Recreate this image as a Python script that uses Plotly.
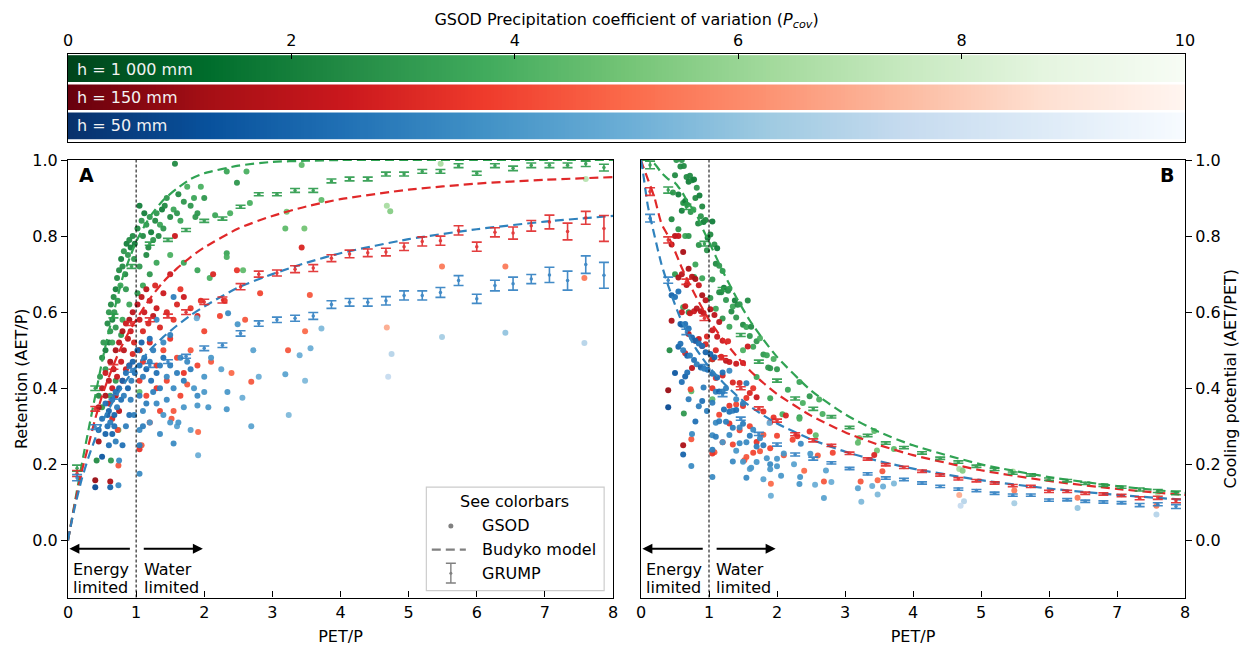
import numpy as np
import plotly.graph_objects as go
from plotly.colors import sequential as seq

FONT = "DejaVu Sans"
FS = 16

# ---------------- data ----------------
# GSOD stations, panel A (PET/P, AET/P, Pcov)
green_x = [0.42,0.63,0.74,0.50,0.62,0.70,0.45,0.47,0.50,0.52,0.55,0.55,0.58,0.60,0.60,0.62,0.63,0.65,0.65,0.67,
           0.68,0.70,0.70,0.72,0.73,0.75,0.77,0.78,0.78,0.80,0.80,0.82,0.84,0.85,0.86,0.88,0.90,0.90,0.92,0.95,
           0.97,0.98,1.02,1.05,1.08,1.10,1.12,1.15,1.18,1.20,1.22,1.25,1.28,1.30,1.33,1.35,1.38,1.40,1.42,1.45,
           1.50,1.55,1.57,1.60,1.62,1.65,1.70,1.75,1.80,1.85,1.90,1.95,1.05,1.10,1.20,1.30,1.15,1.50,1.70,1.90,
           2.08,2.00,2.16,2.38,2.33,2.48,2.62,3.43,3.21,3.19,3.47,3.72,4.68,4.73,2.33,2.33,2.57,1.02,1.05,1.05,
           1.87,5.47,7.60,2.67]
green_y = [0.21,0.21,0.29,0.35,0.38,0.42,0.38,0.43,0.48,0.52,0.50,0.45,0.57,0.60,0.52,0.55,0.62,0.58,0.52,0.64,
           0.60,0.66,0.56,0.69,0.63,0.71,0.67,0.74,0.54,0.72,0.58,0.76,0.70,0.66,0.78,0.75,0.79,0.62,0.77,0.80,
           0.74,0.78,0.82,0.88,0.84,0.80,0.86,0.83,0.77,0.85,0.81,0.79,0.84,0.86,0.80,0.83,0.87,0.82,0.88,0.90,
           0.85,0.87,0.99,0.86,0.91,0.84,0.89,0.93,0.88,0.90,0.86,0.93,0.72,0.67,0.70,0.73,0.75,0.75,0.73,0.71,
           0.69,0.90,0.855,0.86,0.97,0.94,0.97,0.987,0.864,0.82,0.82,0.895,0.88,0.865,0.755,0.745,0.71,0.65,0.50,0.39,
           0.85,0.99,0.95,0.887]
green_c = [2.5,3.0,4.5,3.0,3.5,3.0,2.5,3.0,2.5,3.0,2.0,3.0,2.5,3.0,2.0,3.0,2.5,2.0,3.5,2.5,
           3.0,2.0,3.0,2.5,3.0,2.5,3.5,2.0,3.0,2.5,3.5,3.0,2.5,3.0,2.0,3.0,2.5,3.5,2.0,2.5,
           3.0,2.0,2.5,2.0,3.0,2.5,2.0,3.0,2.5,3.0,2.0,3.0,2.5,3.0,2.5,3.5,2.0,3.0,2.5,3.0,
           2.5,3.5,2.5,3.0,2.5,3.5,3.0,4.0,3.0,3.5,3.0,4.0,3.0,3.5,3.0,3.5,2.5,4.0,3.5,3.5,
           4.0,3.0,3.5,4.0,3.5,3.0,4.0,4.5,5.0,4.5,5.0,4.5,6.5,5.5,3.5,4.0,4.5,3.0,4.0,4.5,
           3.0,6.5,7.0,4.0]

red_x = [0.40,0.62,0.74,0.45,0.73,0.45,0.50,0.55,0.55,0.60,0.62,0.65,0.67,0.70,0.72,0.75,0.78,0.80,0.82,0.85,
         0.88,0.90,0.92,0.95,0.97,0.60,0.70,0.80,0.85,0.75,0.65,0.90,0.95,1.02,1.05,1.08,1.10,1.12,1.15,1.18,
         1.20,1.25,1.28,1.30,1.35,1.40,1.45,1.50,1.55,1.60,1.65,1.70,1.80,1.90,1.95,1.05,1.10,1.20,1.30,1.40,
         1.50,1.60,1.70,1.80,1.90,2.00,1.05,1.15,1.30,1.45,1.55,1.65,1.75,1.20,1.35,1.52,1.08,1.05,1.57,1.91,
         2.13,2.48,2.23,2.82,3.43,3.55,3.23,3.48,2.69,4.68,5.49,6.42,7.58,2.30,2.60,2.10,2.40]
red_y = [0.158,0.155,0.197,0.26,0.29,0.35,0.40,0.38,0.44,0.42,0.47,0.40,0.45,0.50,0.43,0.52,0.47,0.55,0.50,0.57,
         0.53,0.58,0.55,0.60,0.52,0.36,0.38,0.42,0.45,0.34,0.32,0.46,0.49,0.62,0.58,0.64,0.55,0.60,0.66,0.57,
         0.63,0.59,0.67,0.61,0.56,0.65,0.60,0.70,0.58,0.62,0.66,0.64,0.61,0.59,0.63,0.50,0.47,0.52,0.46,0.50,
         0.53,0.48,0.44,0.50,0.46,0.55,0.42,0.38,0.40,0.42,0.34,0.38,0.41,0.31,0.34,0.32,0.25,0.24,0.80,0.285,
         0.70,0.71,0.59,0.65,0.77,0.645,0.50,0.55,0.417,0.56,0.72,0.72,0.69,0.63,0.58,0.47,0.44]
red_c = [1.0,1.5,4.5,1.5,4.0,1.5,2.0,1.5,2.5,2.0,1.5,2.5,2.0,1.5,2.5,2.0,2.5,1.5,2.0,2.5,
         2.0,1.5,2.5,2.0,3.0,2.5,2.0,3.0,2.5,2.0,3.0,2.5,3.0,2.0,2.5,2.0,3.0,2.5,2.0,3.0,
         2.5,2.0,3.0,2.5,3.0,2.5,3.0,2.5,3.5,3.0,3.5,2.5,3.5,3.0,3.5,3.0,3.5,3.0,3.5,4.0,
         3.5,4.0,3.5,4.5,4.0,4.0,3.5,4.0,3.5,4.0,4.5,4.0,4.5,3.5,4.0,4.5,4.5,3.5,2.5,5.0,
         3.0,3.5,4.0,4.0,3.0,4.5,4.5,5.0,4.5,7.0,5.5,5.5,5.5,3.5,4.5,4.5,5.0]

blue_x = [0.40,0.62,0.74,0.45,0.50,0.55,0.58,0.60,0.62,0.65,0.68,0.70,0.72,0.75,0.78,0.80,0.82,0.85,0.88,0.90,
          0.93,0.95,0.98,0.50,0.60,0.70,0.75,0.80,0.85,0.90,0.65,0.55,0.92,0.97,0.58,0.68,1.02,1.05,1.08,1.10,
          1.12,1.15,1.20,1.22,1.25,1.30,1.35,1.40,1.45,1.50,1.55,1.60,1.65,1.70,1.75,1.80,1.85,1.90,2.00,1.05,
          1.10,1.15,1.20,1.30,1.35,1.40,1.50,1.55,1.60,1.70,1.80,1.90,1.05,1.05,1.05,1.10,1.91,1.25,1.45,1.35,
          1.55,1.30,1.50,1.20,1.40,1.62,1.89,2.35,2.49,2.72,3.40,3.56,3.72,3.19,3.48,4.75,4.70,2.34,2.56,2.33,
          2.69,3.24,2.06,5.49,6.42,7.58,2.10,2.25,2.00,2.80]
blue_y = [0.14,0.14,0.145,0.29,0.32,0.28,0.30,0.34,0.31,0.37,0.33,0.39,0.35,0.40,0.37,0.42,0.38,0.44,0.40,0.46,
          0.42,0.47,0.44,0.22,0.25,0.26,0.21,0.25,0.30,0.33,0.28,0.36,0.37,0.33,0.33,0.30,0.50,0.46,0.52,0.43,
          0.48,0.45,0.47,0.42,0.50,0.44,0.46,0.48,0.43,0.46,0.40,0.44,0.48,0.42,0.47,0.45,0.40,0.38,0.43,0.38,
          0.34,0.36,0.31,0.36,0.28,0.33,0.31,0.255,0.30,0.35,0.29,0.355,0.29,0.25,0.175,0.30,0.224,0.39,0.37,0.40,
          0.64,0.58,0.54,0.53,0.52,0.31,0.584,0.597,0.568,0.50,0.487,0.505,0.557,0.437,0.42,0.49,0.43,0.39,0.375,0.345,
          0.30,0.33,0.35,0.535,0.546,0.519,0.48,0.45,0.39,0.43]
blue_c = [1.0,2.0,3.5,2.0,2.5,2.0,2.5,2.0,3.0,2.5,2.0,2.5,3.0,2.0,2.5,2.0,3.0,2.5,2.0,2.5,
          3.0,2.0,2.5,1.5,2.5,3.0,3.5,2.5,3.0,2.5,2.0,2.5,3.0,3.0,2.0,2.5,2.0,2.5,2.0,3.0,
          2.5,2.0,3.0,2.5,3.0,2.5,3.0,2.5,3.5,3.0,3.5,3.0,3.5,3.0,3.5,3.0,4.0,3.5,4.0,3.0,
          3.5,3.0,4.0,3.5,3.5,4.0,4.0,3.5,4.5,4.0,4.5,4.0,3.5,3.0,3.5,3.0,5.0,3.0,3.5,3.0,
          3.0,3.5,3.0,2.5,3.5,4.0,5.0,3.5,4.0,4.5,5.0,5.0,5.5,4.5,5.5,7.0,7.5,4.0,5.0,4.0,
          4.5,5.5,4.0,6.5,6.0,7.0,4.0,4.5,4.0,5.0]

# Budyko model curves, panel A (AET/P vs PET/P)
budyko_x = [0.0,0.03,0.1,0.2,0.3,0.4,0.5,0.6,0.7,0.8,0.9,1.0,1.2,1.4,1.6,1.8,2.0,2.5,3.0,3.5,4.0,5.0,6.0,7.0,8.0]
budyko_green = [0.0,0.03,0.1,0.198,0.29,0.38,0.47,0.55,0.62,0.69,0.74,0.785,0.85,0.895,0.925,0.95,0.965,0.985,0.995,0.998,1.0,1.0,1.0,1.0,1.0]
budyko_red = [0.0,0.0295,0.095,0.18,0.25,0.32,0.38,0.43,0.475,0.515,0.55,0.58,0.635,0.68,0.715,0.745,0.77,0.82,0.853,0.878,0.897,0.922,0.938,0.948,0.955]
budyko_blue = [0.0,0.029,0.088,0.16,0.218,0.268,0.31,0.345,0.378,0.405,0.432,0.456,0.50,0.535,0.565,0.592,0.615,0.665,0.70,0.73,0.755,0.792,0.818,0.838,0.853]

# GRUMP binned means
grump_x = [0.133,0.4,0.667,0.933,1.2,1.467,1.733,2.0,2.267,2.533,2.8,3.067,3.333,3.6,3.867,
           4.133,4.4,4.667,4.933,5.2,5.467,5.733,6.0,6.267,6.533,6.8,7.067,7.333,7.6,7.867]
grumpA_green = [0.19,0.40,0.59,0.72,0.78,0.79,0.816,0.84,0.846,0.877,0.91,0.91,0.92,0.92,0.945,
                0.95,0.95,0.963,0.963,0.97,0.97,0.985,0.965,0.985,0.978,0.986,0.986,0.986,0.99,0.98]
grumpA_red = [0.176,0.346,0.456,0.57,0.58,0.59,0.60,0.627,0.632,0.667,0.70,0.703,0.713,0.716,0.742,
              0.753,0.756,0.758,0.772,0.786,0.788,0.815,0.772,0.81,0.808,0.827,0.837,0.812,0.848,0.82]
grumpA_blue = [0.165,0.298,0.377,0.447,0.46,0.47,0.484,0.505,0.513,0.544,0.57,0.58,0.584,0.59,0.62,
               0.626,0.626,0.63,0.644,0.644,0.652,0.683,0.635,0.67,0.675,0.687,0.698,0.683,0.725,0.697]
grumpA_green_err = [0.008,0.006,0.005,0.005,0.004,0.004,0.004,0.004,0.004,0.004,0.004,0.004,0.005,0.005,0.005,
                    0.005,0.005,0.005,0.005,0.005,0.005,0.005,0.005,0.005,0.006,0.006,0.006,0.006,0.007,0.009]
grumpA_red_err = [0.008,0.006,0.006,0.005,0.005,0.005,0.006,0.007,0.008,0.008,0.008,0.008,0.009,0.009,0.009,
                  0.010,0.010,0.010,0.010,0.012,0.012,0.012,0.012,0.012,0.016,0.014,0.018,0.022,0.017,0.034]
grumpA_blue_err = [0.008,0.006,0.006,0.005,0.005,0.005,0.005,0.006,0.006,0.007,0.007,0.007,0.008,0.009,0.010,
                   0.010,0.010,0.011,0.012,0.012,0.013,0.013,0.012,0.014,0.017,0.012,0.020,0.025,0.023,0.034]
grumpB_green = [0.987,0.921,0.877,0.78,0.66,0.54,0.47,0.42,0.373,0.346,0.325,0.297,0.276,0.256,0.244,
                0.23,0.216,0.206,0.195,0.187,0.177,0.172,0.161,0.157,0.150,0.145,0.14,0.134,0.13,0.125]
grumpB_red = [0.917,0.79,0.68,0.584,0.48,0.40,0.347,0.315,0.279,0.263,0.25,0.229,0.214,0.199,0.192,
              0.182,0.172,0.162,0.157,0.151,0.144,0.142,0.129,0.129,0.124,0.122,0.118,0.111,0.112,0.104]
grumpB_blue = [0.847,0.684,0.548,0.456,0.383,0.32,0.28,0.252,0.226,0.215,0.204,0.189,0.175,0.164,0.16,
               0.151,0.142,0.135,0.131,0.124,0.119,0.119,0.106,0.107,0.103,0.101,0.099,0.093,0.095,0.089]
grumpB_err = [0.010,0.008,0.007,0.006,0.005,0.004,0.004,0.004,0.004,0.004,0.003,0.003,0.003,0.003,0.003,
              0.003,0.003,0.003,0.003,0.003,0.003,0.003,0.003,0.003,0.003,0.003,0.003,0.004,0.004,0.005]

bar_labels = ["h = 1 000 mm", "h = 150 mm", "h = 50 mm"]
pcov_ticks = [0, 2, 4, 6, 8, 10]

# ---------------- styling ----------------
def rev_scale(cs):
    cs = list(reversed(cs))
    n = len(cs)
    return [[i / (n - 1), c] for i, c in enumerate(cs)]

CS_G = rev_scale(seq.Greens)
CS_R = rev_scale(seq.Reds)
CS_B = rev_scale(seq.Blues)

LINE_G, LINE_R, LINE_B = "#31a354", "#e0292a", "#3182bd"
ERR_G, ERR_R, ERR_B = "#2a9a4a", "#e0292a", "#2f7fc1"

# the page body has an 8px margin, so the figure is 1240x638 and sits at (8, 8)
W, H, OFF = 1240, 638, 8
def px_x(p):
    return (p - OFF) / W
def px_y(p):
    return 1 - (p - OFF) / H

A_X = [px_x(68), px_x(613)]
B_X = [px_x(641), px_x(1185)]
Y_MAIN = [px_y(597.5), px_y(160)]
CB_Y = [px_y(141.5), px_y(53.5)]

fig = go.Figure()

# ---------- colour bars (top) ----------
grad = np.linspace(0, 10, 301)
for row, cs in zip([2, 1, 0], [CS_G, CS_R, CS_B]):
    fig.add_trace(go.Heatmap(x=grad, y=[row], z=[grad], colorscale=cs, zmin=0, zmax=10,
                             showscale=False, hoverinfo="skip", xaxis="x3", yaxis="y3"))

# ---------- scatter ----------
series = [
    (green_x, green_y, green_c, CS_G),
    (red_x, red_y, red_c, CS_R),
    (blue_x, blue_y, blue_c, CS_B),
]
for xs, ys, cs_vals, cs in series:
    xs_a = np.array(xs); ys_a = np.array(ys)
    for xa, ya, yv in [("x", "y", ys_a), ("x2", "y2", ys_a / xs_a)]:
        fig.add_trace(go.Scatter(x=xs_a, y=yv, mode="markers", xaxis=xa, yaxis=ya,
                                 marker=dict(size=6, color=cs_vals, colorscale=cs, cmin=0, cmax=10,
                                             opacity=0.95, line=dict(width=0)),
                                 showlegend=False, hoverinfo="skip"))

# ---------- Budyko curves ----------
bx = np.array(budyko_x)
for curve, col in [(budyko_green, LINE_G), (budyko_red, LINE_R), (budyko_blue, LINE_B)]:
    cy = np.array(curve)
    fig.add_trace(go.Scatter(x=bx, y=cy, mode="lines", xaxis="x", yaxis="y",
                             line=dict(color=col, width=2.2, dash="9px,5px", shape="spline", smoothing=0.6),
                             showlegend=False, hoverinfo="skip"))
    m = bx > 0
    fig.add_trace(go.Scatter(x=np.concatenate([[0.0], bx[m]]), y=np.concatenate([[1.0], cy[m] / bx[m]]),
                             mode="lines", xaxis="x2", yaxis="y2",
                             line=dict(color=col, width=2.2, dash="9px,5px", shape="spline", smoothing=0.6),
                             showlegend=False, hoverinfo="skip"))

# ---------- GRUMP ----------
for ya, yb, ea, col in [(grumpA_green, grumpB_green, grumpA_green_err, ERR_G),
                        (grumpA_red, grumpB_red, grumpA_red_err, ERR_R),
                        (grumpA_blue, grumpB_blue, grumpA_blue_err, ERR_B)]:
    for xa, yax, yv, ev in [("x", "y", ya, ea), ("x2", "y2", yb, grumpB_err)]:
        fig.add_trace(go.Scatter(x=grump_x, y=yv, mode="markers", xaxis=xa, yaxis=yax,
                                 marker=dict(size=3.5, color=col),
                                 error_y=dict(type="data", array=ev, color=col, thickness=1.6, width=5),
                                 opacity=0.9, showlegend=False, hoverinfo="skip"))

# ---------- legend (drawn) ----------
LEG_GRAY = "#808080"
fig.add_trace(go.Scatter(x=[5.62], y=[0.038], mode="markers", xaxis="x", yaxis="y",
                         marker=dict(size=5, color=LEG_GRAY), showlegend=False, hoverinfo="skip"))
fig.add_trace(go.Scatter(x=[5.34, 5.84], y=[-0.024, -0.024], mode="lines", xaxis="x", yaxis="y",
                         line=dict(color=LEG_GRAY, width=2.2, dash="9px,5px"), showlegend=False, hoverinfo="skip"))
fig.add_trace(go.Scatter(x=[5.62], y=[-0.086], mode="markers", xaxis="x", yaxis="y",
                         marker=dict(size=3, color=LEG_GRAY),
                         error_y=dict(type="data", array=[0.026], color=LEG_GRAY, thickness=1.4, width=5),
                         showlegend=False, hoverinfo="skip"))

shapes = []
annotations = []
shapes.append(dict(type="rect", xref="x", yref="y", x0=5.26, x1=7.87, y0=-0.132, y1=0.14,
                   line=dict(color="#cccccc", width=1.2), fillcolor="rgba(255,255,255,0.85)", layer="below"))
for txt, yy in [("GSOD", 0.038), ("Budyko model", -0.024), ("GRUMP", -0.086)]:
    annotations.append(dict(text=txt, x=6.05, y=yy, xref="x", yref="y", xanchor="left", yanchor="middle",
                            showarrow=False, font=dict(family=FONT, size=FS, color="black")))
annotations.append(dict(text="See colorbars", x=6.56, y=0.103, xref="x", yref="y", xanchor="center",
                        yanchor="middle", showarrow=False, font=dict(family=FONT, size=FS, color="black")))

# ---------- panel decorations ----------
for xr, yr in [("x", "y"), ("x2", "y2")]:
    shapes.append(dict(type="line", xref=xr, yref=yr + " domain", x0=1, x1=1, y0=0, y1=1,
                       line=dict(color="black", width=1, dash="3px,2px")))
    annotations.append(dict(x=0.02, y=-0.022, ax=0.93, ay=-0.022, xref=xr, yref=yr, axref=xr, ayref=yr,
                            showarrow=True, arrowhead=2, arrowsize=1, arrowwidth=2, arrowcolor="black", text=""))
    annotations.append(dict(x=1.98, y=-0.022, ax=1.09, ay=-0.022, xref=xr, yref=yr, axref=xr, ayref=yr,
                            showarrow=True, arrowhead=2, arrowsize=1, arrowwidth=2, arrowcolor="black", text=""))
    for txt, xx, yy in [("Energy", 0.04, -0.076), ("limited", 0.04, -0.124),
                        ("Water", 1.08, -0.076), ("limited", 1.08, -0.124)]:
        annotations.append(dict(text=txt, x=xx, y=yy, xref=xr, yref=yr, xanchor="left",
                                yanchor="middle", showarrow=False,
                                font=dict(family=FONT, size=FS, color="black")))

annotations.append(dict(text="<b>A</b>", x=0.13, y=0.96, xref="x", yref="y", xanchor="left", yanchor="middle",
                        showarrow=False, font=dict(family=FONT, size=19, color="black")))
annotations.append(dict(text="<b>B</b>", x=7.87, y=0.96, xref="x2", yref="y2", xanchor="right", yanchor="middle",
                        showarrow=False, font=dict(family=FONT, size=19, color="black")))

# colour bar row labels and separators
for row, lab in zip([2, 1, 0], bar_labels):
    annotations.append(dict(text=lab, x=0.06, y=row, xref="x3", yref="y3", xanchor="left", yanchor="middle",
                            showarrow=False, font=dict(family=FONT, size=FS, color="#f2f2f2")))
for yy in [0.5, 1.5]:
    shapes.append(dict(type="line", xref="x3 domain", yref="y3", x0=0, x1=1, y0=yy, y1=yy,
                       line=dict(color="white", width=2.5)))

axis_common = dict(showline=True, linecolor="black", linewidth=1.2, mirror=True, showgrid=False,
                   zeroline=False, tickfont=dict(family=FONT, size=FS, color="black"),
                   tickcolor="black", automargin=False)

ytickvals = [0.0, 0.2, 0.4, 0.6, 0.8, 1.0]
fig.update_layout(
    width=W, height=H,
    margin=dict(l=0, r=0, t=0, b=0, autoexpand=False),
    paper_bgcolor="white", plot_bgcolor="white",
    font=dict(family=FONT, size=FS, color="black"),
    showlegend=False,
    xaxis=dict(domain=A_X, range=[0, 8], anchor="y", ticks="inside", ticklen=6, dtick=1,
               title=dict(text="PET/P", font=dict(family=FONT, size=FS), standoff=10), **axis_common),
    yaxis=dict(domain=Y_MAIN, range=[-0.15, 1.0], anchor="x", ticks="outside", ticklen=6, tickvals=ytickvals,
               tickformat=".1f",
               title=dict(text="Retention (AET/P)", font=dict(family=FONT, size=FS), standoff=0), **axis_common),
    xaxis2=dict(domain=B_X, range=[0, 8], anchor="y2", ticks="inside", ticklen=6, dtick=1,
                title=dict(text="PET/P", font=dict(family=FONT, size=FS), standoff=10), **axis_common),
    yaxis2=dict(domain=Y_MAIN, range=[-0.15, 1.0], anchor="x2", side="right", ticks="outside", ticklen=6,
                tickvals=ytickvals, tickformat=".1f",
                title=dict(text="Cooling potential (AET/PET)", font=dict(family=FONT, size=FS), standoff=0),
                **axis_common),
    xaxis3=dict(domain=[A_X[0], B_X[1]], range=[0, 10], anchor="y3", side="top", ticks="inside",
                tickvals=pcov_ticks, ticklen=5,
                title=dict(text="GSOD Precipitation coefficient of variation (<i>P</i><sub><i>cov</i></sub>)",
                           font=dict(family=FONT, size=FS), standoff=0),
                **axis_common),
    yaxis3=dict(domain=CB_Y, range=[-0.58, 2.56], anchor="x3", showticklabels=False, ticks="",
                showline=True, linecolor="black", linewidth=1.2, mirror=True, showgrid=False, zeroline=False,
                automargin=False),
    shapes=shapes,
    annotations=annotations,
)

fig.write_html("out.html")
